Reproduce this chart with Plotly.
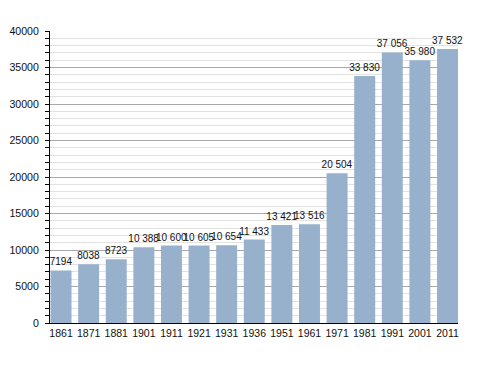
import plotly.graph_objects as go

years = ["1861", "1871", "1881", "1901", "1911", "1921", "1931", "1936",
         "1951", "1961", "1971", "1981", "1991", "2001", "2011"]
population = [7194, 8038, 8723, 10388, 10600, 10605, 10654, 11433,
              13421, 13516, 20504, 33830, 37056, 35980, 37532]
labels = [f"{v:,}".replace(",", " ") if v >= 10000 else str(v) for v in population]
y_ticks = [0, 5000, 10000, 15000, 20000, 25000, 30000, 35000, 40000]

FONT = "Liberation Sans, Arial, sans-serif"

fig = go.Figure(go.Bar(
    x=list(range(len(years))),
    y=population,
    text=labels,
    textposition="outside",
    constraintext="none",
    cliponaxis=False,
    textfont=dict(family=FONT, size=10, color="#111"),
    marker=dict(color="#97b1cd", line=dict(width=0)),
    width=0.76,
))

# page body has an 8px margin, so the figure is sized/offset to compensate
fig.update_layout(
    width=480, height=365,
    margin=dict(l=42, r=30, t=23, b=50, autoexpand=False),
    paper_bgcolor="white", plot_bgcolor="white",
    font=dict(family=FONT, size=11, color="#111"),
    showlegend=False,
)
fig.update_xaxes(
    automargin=False,
    range=[-0.4, 14.38],
    tickmode="array", tickvals=list(range(len(years))), ticktext=years,
    tickfont=dict(size=10.5),
    showline=True, linecolor="black", linewidth=1,
    showgrid=False, ticks="", zeroline=False,
)
fig.update_yaxes(
    automargin=False,
    range=[0, 40000],
    tickmode="array", tickvals=y_ticks, ticktext=[str(t) for t in y_ticks],
    tickfont=dict(size=10.6),
    ticklabelstandoff=4,
    showline=True, linecolor="black", linewidth=1,
    showgrid=True, gridcolor="#a8a8a8", gridwidth=1,
    ticks="outside", ticklen=4, tickcolor="black",
    zeroline=False,
    minor=dict(dtick=1000, showgrid=True, gridcolor="#e2e2e2", gridwidth=1,
               ticks="outside", ticklen=4, tickcolor="black"),
)

fig.write_html("out.html")
